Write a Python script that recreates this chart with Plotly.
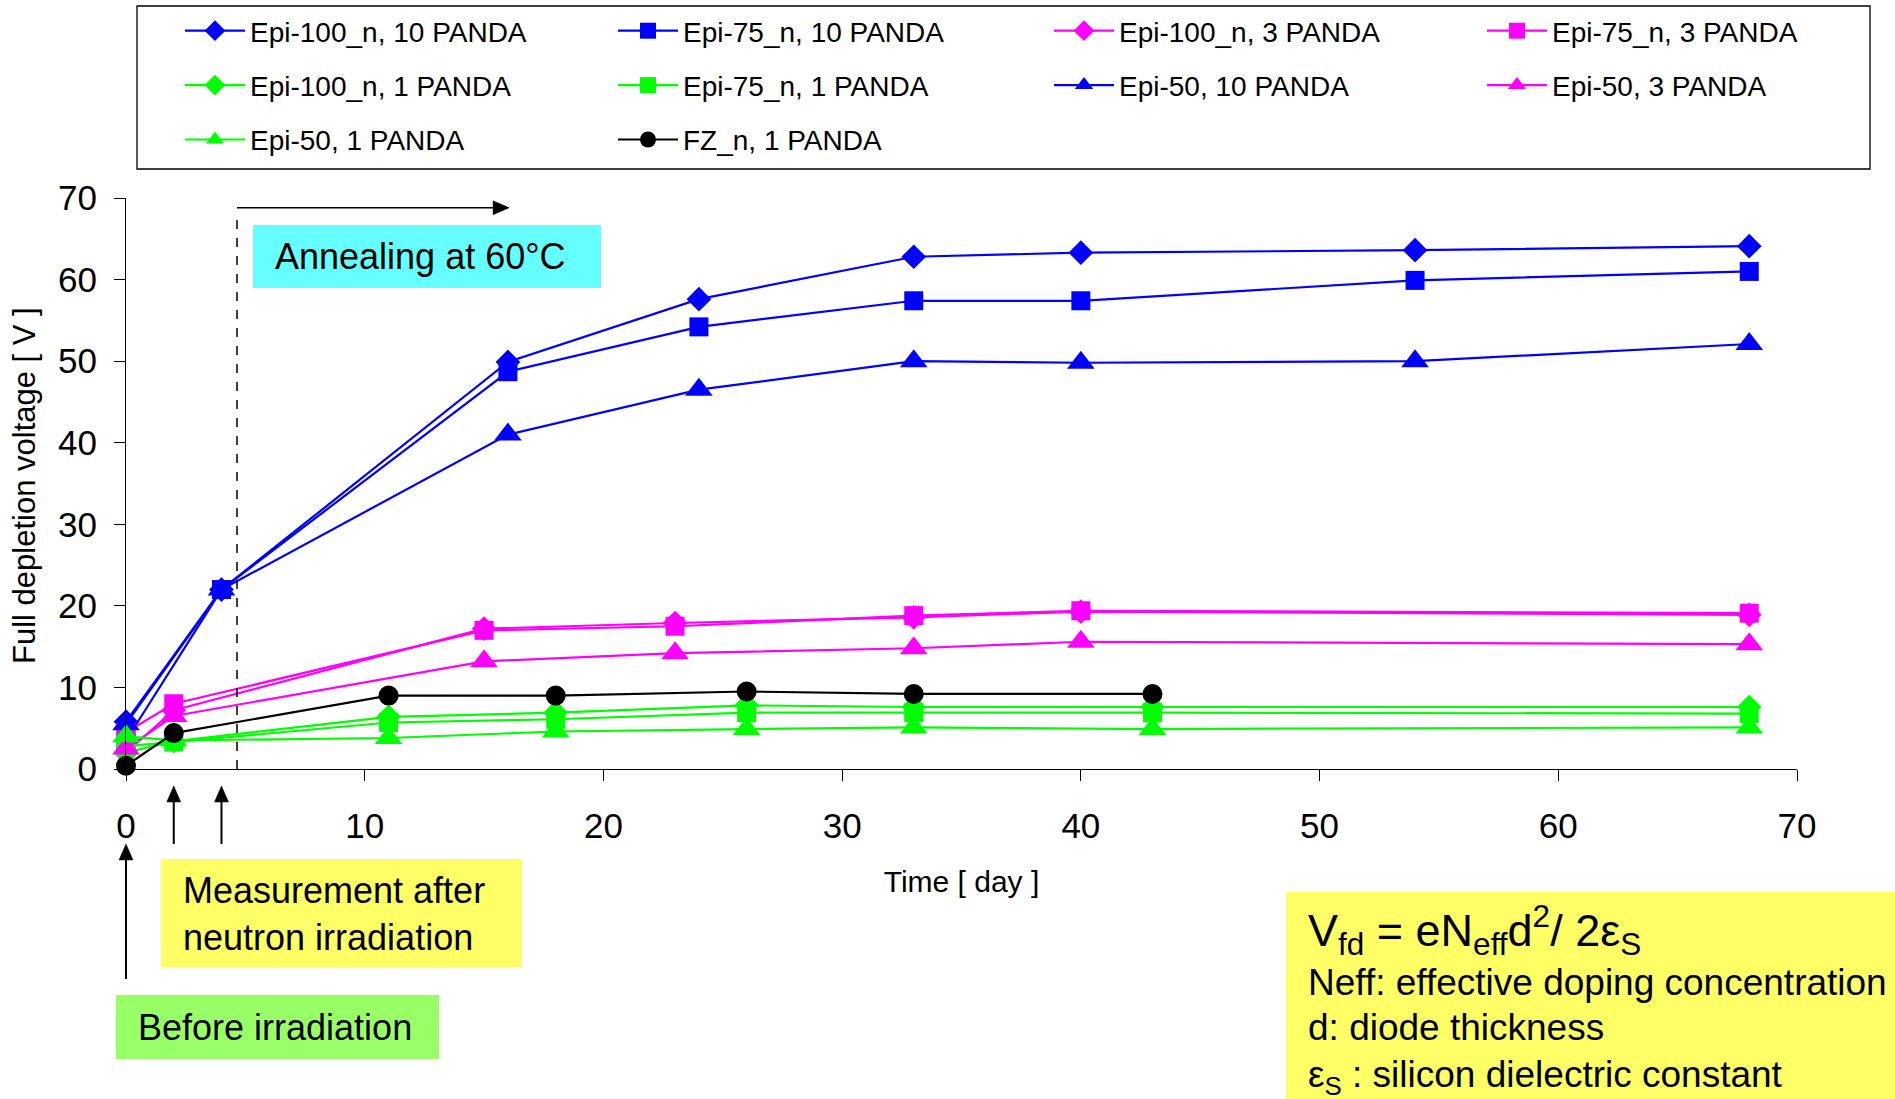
import plotly.graph_objects as go

# ---------------- data ----------------
blue_x = [0, 4, 16, 24, 33, 40, 54, 68]
epi100_10 = [5.8, 22.0, 49.9, 57.6, 62.8, 63.3, 63.6, 64.1]
epi75_10 = [3.5, 22.0, 48.7, 54.2, 57.4, 57.4, 59.9, 61.0]
epi50_10 = [5.5, 22.0, 41.0, 46.5, 50.0, 49.8, 50.0, 52.1]

pink_x = [0, 2, 15, 23, 33, 40, 68]
epi100_3 = [2.0, 7.2, 17.2, 17.9, 18.6, 19.3, 18.9]
epi75_3 = [4.5, 8.0, 17.0, 17.5, 18.8, 19.4, 19.1]
epi50_3 = [2.5, 6.5, 13.2, 14.2, 14.8, 15.6, 15.3]

green_x = [0, 2, 11, 18, 26, 33, 43, 68]
epi100_1 = [2.0, 3.4, 6.4, 6.9, 7.8, 7.6, 7.6, 7.6]
epi75_1 = [2.8, 3.3, 5.7, 6.1, 6.9, 6.9, 6.9, 6.8]
epi50_1 = [4.0, 3.5, 3.8, 4.6, 4.9, 5.1, 4.9, 5.1]

fz_x = [0, 2, 11, 18, 26, 33, 43]
fz_1 = [0.4, 4.4, 9.0, 9.0, 9.5, 9.2, 9.2]

x_ticks = [0, 10, 20, 30, 40, 50, 60, 70]
y_ticks = [0, 10, 20, 30, 40, 50, 60, 70]

annealing_start = 4.65
annealing_arrow_end = 16.05
annealing_level = 68.8
measurement_days = [2, 4]

# ---------------- geometry ----------------
W, H = 1895, 1099
L, R, T, B = 126, 98, 198, 330
PW = W - L - R
PH = H - T - B
XMAX, YMAX = 70, 70
FONT = "Liberation Sans, Arial, sans-serif"


def px(xpix):
    return (xpix - L) / PW


def py(ypix):
    return (H - B - ypix) / PH


def dx2pix(x):
    return L + x / XMAX * PW


def dy2pix(y):
    return H - B - y / YMAX * PH


BLUE, PINK, GREEN, BLACK = "#0000FF", "#FF00FF", "#00FF00", "#000000"

series = [
    ("Epi-100_n, 10 PANDA", blue_x, epi100_10, BLUE, "diamond", 19, "legend"),
    ("Epi-75_n, 10 PANDA", blue_x, epi75_10, BLUE, "square", 19, "legend2"),
    ("Epi-100_n, 3 PANDA", pink_x, epi100_3, PINK, "diamond", 19, "legend3"),
    ("Epi-75_n, 3 PANDA", pink_x, epi75_3, PINK, "square", 19, "legend4"),
    ("Epi-100_n, 1 PANDA", green_x, epi100_1, GREEN, "diamond", 19, "legend"),
    ("Epi-75_n, 1 PANDA", green_x, epi75_1, GREEN, "square", 19, "legend2"),
    ("Epi-50, 10 PANDA", blue_x, epi50_10, BLUE, "triangle-up", 24, "legend3"),
    ("Epi-50, 3 PANDA", pink_x, epi50_3, PINK, "triangle-up", 24, "legend4"),
    ("Epi-50, 1 PANDA", green_x, epi50_1, GREEN, "triangle-up", 24, "legend"),
    ("FZ_n, 1 PANDA", fz_x, fz_1, BLACK, "circle", 20, "legend2"),
]

fig = go.Figure()
for name, xs, ys, col, sym, size, leg in series:
    fig.add_trace(go.Scatter(
        x=xs, y=ys, name=name, mode="lines+markers",
        line=dict(color=col, width=2.2),
        marker=dict(symbol=sym, size=size, color=col, line=dict(width=0)),
        legend=leg, legendgroup=name, cliponaxis=False,
    ))

# ---------------- legends (4 columns) ----------------
leg_text_x = [250, 683, 1119, 1552]
itemw = 60
leg_common = dict(
    xref="container", yref="container", xanchor="left", yanchor="top",
    orientation="v", bgcolor="rgba(0,0,0,0)", borderwidth=0,
    font=dict(size=28, family=FONT, color="black"),
    tracegroupgap=15, itemwidth=itemw, traceorder="grouped",
)
legends = {}
for i, key in enumerate(["legend", "legend2", "legend3", "legend4"]):
    d = dict(leg_common)
    d["x"] = (leg_text_x[i] - (itemw + 10)) / W
    d["y"] = 1 - 6 / H
    legends[key] = d

# ---------------- shapes ----------------
shapes = [
    # legend frame
    dict(type="rect", xref="paper", yref="paper", x0=px(137), x1=px(1870),
         y0=py(169), y1=py(6), line=dict(color="black", width=1.3), layer="above"),
    # annealing box
    dict(type="rect", xref="paper", yref="paper", x0=px(253), x1=px(601),
         y0=py(288), y1=py(225), fillcolor="#66FFFF", line=dict(width=0), layer="below"),
    # measurement box
    dict(type="rect", xref="paper", yref="paper", x0=px(161), x1=px(522),
         y0=py(967), y1=py(859), fillcolor="#FFFF66", line=dict(width=0)),
    # before irradiation box
    dict(type="rect", xref="paper", yref="paper", x0=px(116), x1=px(439),
         y0=py(1059), y1=py(995), fillcolor="#99FF66", line=dict(width=0)),
    # formula box
    dict(type="rect", xref="paper", yref="paper", x0=px(1286), x1=px(1910),
         y0=py(1110), y1=py(892), fillcolor="#FFFF66", line=dict(width=0)),
    # dashed annealing line
    dict(type="line", xref="x", yref="y", x0=annealing_start, x1=annealing_start,
         y0=0, y1=68.2, line=dict(color="black", width=1.5, dash="dash")),
]

HEAD_LEN, HEAD_HALF = 16, 7


def arrow(x0p, y0p, x1p, y1p):
    """Arrow in pixel coordinates from tail (x0p, y0p) to head (x1p, y1p)."""
    out = []
    if x1p == x0p:  # vertical, pointing up
        base = y1p + HEAD_LEN
        out.append(dict(type="line", xref="paper", yref="paper",
                        x0=px(x0p), x1=px(x1p), y0=py(y0p), y1=py(base),
                        line=dict(color="black", width=2)))
        path = "M {} {} L {} {} L {} {} Z".format(
            px(x1p), py(y1p), px(x1p - HEAD_HALF), py(base), px(x1p + HEAD_HALF), py(base))
    else:  # horizontal, pointing right
        base = x1p - HEAD_LEN
        out.append(dict(type="line", xref="paper", yref="paper",
                        x0=px(x0p), x1=px(base), y0=py(y0p), y1=py(y1p),
                        line=dict(color="black", width=1.5)))
        path = "M {} {} L {} {} L {} {} Z".format(
            px(x1p), py(y1p), px(base), py(y1p - HEAD_HALF), px(base), py(y1p + HEAD_HALF))
    out.append(dict(type="path", xref="paper", yref="paper", path=path,
                    fillcolor="black", line=dict(color="black", width=0.5)))
    return out


ay = dy2pix(annealing_level)
shapes += arrow(dx2pix(annealing_start), ay, dx2pix(annealing_arrow_end), ay)
for xd in measurement_days:
    shapes += arrow(dx2pix(xd), 844, dx2pix(xd), 786)
shapes += arrow(dx2pix(0), 979, dx2pix(0), 844)

# ---------------- annotations ----------------
ann = []
txt = dict(showarrow=False, xref="paper", yref="paper", xanchor="left",
           yanchor="middle", align="left")
ann.append(dict(txt, text="Annealing at 60°C", x=px(273), y=py(256),
                font=dict(size=36, family=FONT, color="black")))
ann.append(dict(txt, text="Measurement after<br>neutron irradiation", x=px(181), y=py(914),
                font=dict(size=36, family=FONT, color="black")))
ann.append(dict(txt, text="Before irradiation", x=px(136), y=py(1027),
                font=dict(size=36, family=FONT, color="black")))
ann.append(dict(txt, text="V<sub>fd</sub> = eN<sub>eff</sub>d<sup>2</sup>/ 2ε<sub>S</sub>",
                x=px(1306), y=py(930), font=dict(size=45, family=FONT, color="black")))
ann.append(dict(txt, text="Neff: effective doping concentration", x=px(1306), y=py(982),
                font=dict(size=37, family=FONT, color="black")))
ann.append(dict(txt, text="d: diode thickness", x=px(1306), y=py(1027),
                font=dict(size=37, family=FONT, color="black")))
ann.append(dict(txt, text="ε<sub>S</sub> : silicon dielectric constant", x=px(1306), y=py(1077),
                font=dict(size=37, family=FONT, color="black")))
# y-axis title
ann.append(dict(showarrow=False, xref="paper", yref="paper", x=px(24), y=py(486),
                xanchor="center", yanchor="middle", textangle=-90,
                text="Full depletion voltage [ V ]",
                font=dict(size=31, family=FONT, color="black")))

axis_common = dict(
    range=[0, 70], showgrid=False, zeroline=False, showline=True,
    linecolor="black", linewidth=1, ticks="outside", ticklen=11, tickwidth=1,
    tickcolor="black", tickfont=dict(size=35, family=FONT, color="black"),
)

fig.update_layout(
    width=W, height=H,
    margin=dict(l=L, r=R, t=T, b=B, autoexpand=False),
    paper_bgcolor="white", plot_bgcolor="white",
    font=dict(family=FONT, color="black"),
    xaxis=dict(axis_common, tickvals=x_ticks, ticklabelstandoff=15,
               title=dict(text="Time [ day ]", font=dict(size=30, family=FONT), standoff=26)),
    yaxis=dict(axis_common, tickvals=y_ticks, ticklabelstandoff=10),
    shapes=shapes,
    annotations=ann,
    showlegend=True,
    **legends,
)

fig.write_html("out.html")
